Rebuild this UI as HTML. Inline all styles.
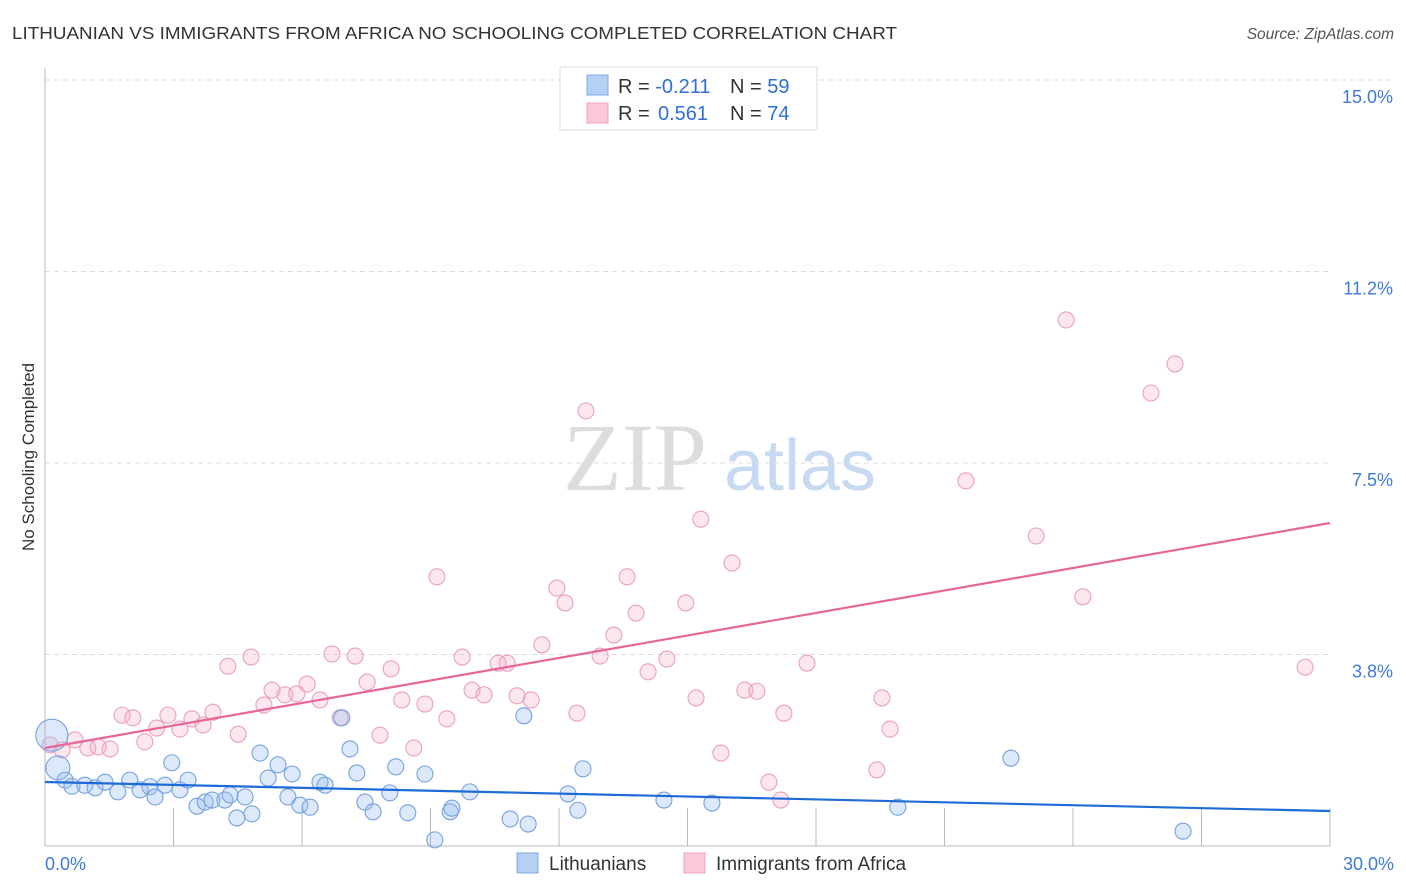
<!DOCTYPE html>
<html><head><meta charset="utf-8"><style>
body{margin:0;background:#fff;font-family:"Liberation Sans",sans-serif;}
svg{display:block}
</style></head><body>
<svg id="chart" width="1406" height="892">
<text x="12" y="39" font-size="17.5" fill="#333" textLength="885" lengthAdjust="spacingAndGlyphs">LITHUANIAN VS IMMIGRANTS FROM AFRICA NO SCHOOLING COMPLETED CORRELATION CHART</text>
<text x="1394" y="39" font-size="15.5" fill="#555" font-style="italic" text-anchor="end">Source: ZipAtlas.com</text>
<text x="34" y="457" font-size="17" fill="#333" text-anchor="middle" transform="rotate(-90 34 457)">No Schooling Completed</text>
<g><text x="635" y="490" font-size="96" fill="#ddd" font-family="Liberation Serif,serif" text-anchor="middle">ZIP</text><text x="800" y="490" font-size="72" fill="#c8daf2" text-anchor="middle">atlas</text></g>
<g id="grid"></g><g id="pts"></g><g id="lines"></g>
<g>
<rect x="560" y="67" width="257" height="63" fill="#fff" stroke="#ddd"/>
<rect x="587" y="75" width="21" height="20" fill="#b5d0f3" stroke="#7fa9e0"/>
<rect x="587" y="103" width="21" height="20" fill="#f9c9d7" stroke="#eea2bb"/>
<text x="618" y="93" font-size="20" fill="#333">R = <tspan fill="#2f6fd4">-0.211</tspan></text>
<text x="730" y="93" font-size="20" fill="#333">N = <tspan fill="#2f6fd4">59</tspan></text>
<text x="618" y="120" font-size="20" fill="#333">R = <tspan fill="#2f6fd4" x="658">0.561</tspan></text>
<text x="730" y="120" font-size="20" fill="#333">N = <tspan fill="#2f6fd4">74</tspan></text>
</g>
<g>
<rect x="517" y="853" width="21" height="20" fill="#b5d0f3" stroke="#7fa9e0"/>
<text x="549" y="870" font-size="19" fill="#333">Lithuanians</text>
<rect x="684" y="853" width="21" height="20" fill="#f9c9d7" stroke="#eea2bb"/>
<text x="716" y="870" font-size="19" fill="#333">Immigrants from Africa</text>
</g>
</svg>
<script>
const yTicks=[3.75,7.5,11.25,15];
const yTickLabels=["3.8%","7.5%","11.2%","15.0%"];
const xTickVals=[0,3,6,9,12,15,18,21,24,27,30];
const xLabels=["0.0%","30.0%"];
const blueX=[0.16,0.30,0.47,0.63,0.93,1.17,1.40,1.70,1.98,2.22,2.45,2.57,2.80,2.96,3.15,3.34,3.55,3.74,3.90,4.20,4.32,4.48,4.67,4.83,5.02,5.21,5.44,5.67,5.77,5.95,6.19,6.42,6.54,6.93,7.12,7.28,7.47,7.66,8.05,8.19,8.47,8.87,9.10,9.46,9.50,9.92,10.86,11.18,11.28,12.21,12.44,12.56,14.45,15.57,19.91,22.55,26.57];
const blueY=[2.17,1.53,1.29,1.17,1.19,1.14,1.25,1.06,1.29,1.10,1.16,0.96,1.19,1.63,1.10,1.29,0.78,0.86,0.90,0.90,1.00,0.55,0.96,0.63,1.82,1.33,1.59,0.96,1.41,0.80,0.76,1.25,1.19,2.51,1.90,1.43,0.86,0.67,1.04,1.55,0.65,1.41,0.12,0.67,0.74,1.06,0.53,2.55,0.43,1.02,0.70,1.51,0.90,0.84,0.76,1.72,0.29];
const blueR=[16,12];
const pinkX=[0.12,0.40,0.70,1.00,1.24,1.52,1.80,2.05,2.33,2.61,2.87,3.15,3.43,3.69,3.92,4.51,4.27,4.81,5.11,5.30,5.60,5.88,6.12,6.42,6.70,6.89,7.24,7.52,7.82,8.08,8.33,8.61,8.87,9.15,9.38,9.74,9.97,10.25,10.58,10.79,11.02,11.35,11.60,11.95,12.14,12.42,12.63,12.96,13.28,13.59,13.80,14.08,14.52,14.96,15.20,15.31,15.78,16.04,16.34,16.62,16.90,17.18,17.25,17.79,19.42,19.54,19.73,21.50,23.14,23.84,24.23,25.82,26.38,29.42];
const pinkY=[1.98,1.88,2.08,1.92,1.94,1.90,2.56,2.51,2.04,2.31,2.56,2.29,2.49,2.37,2.62,2.19,3.52,3.70,2.76,3.05,2.96,2.98,3.17,2.86,3.76,2.51,3.72,3.21,2.17,3.47,2.86,1.92,2.78,5.27,2.49,3.70,3.05,2.96,3.58,3.58,2.94,2.86,3.94,5.05,4.76,2.60,8.52,3.72,4.13,5.27,4.56,3.41,3.66,4.76,2.90,6.40,1.82,5.54,3.05,3.03,1.25,0.90,2.60,3.58,1.49,2.90,2.29,7.15,6.07,10.30,4.88,8.87,9.44,3.50];
const blueTrend=[1.253,0.685];
const pinkTrend=[1.919,6.325];
const NS="http://www.w3.org/2000/svg";
const X=v=>45+v/30*1285, Y=v=>846-v*51.07;
function mk(tag,at,parent){const e=document.createElementNS(NS,tag);for(const k in at)e.setAttribute(k,at[k]);parent.appendChild(e);return e;}
const g=document.getElementById('grid');
yTicks.forEach((t,i)=>{
 const l=mk('line',{x1:45,x2:t===15?1395:1330,y1:Y(t),y2:Y(t),stroke:'#ddd','stroke-dasharray':'5,4'},g);
 
 
 const tx=mk('text',{x:1393,y:Y(t)+23,'font-size':18,fill:'#3f7bd6','text-anchor':'end'},g);tx.textContent=yTickLabels[i];
 
 
});
const ax=mk('line',{x1:45,x2:45,y1:68,y2:846,stroke:'#bbb'},g);


const bx=mk('line',{x1:45,x2:1330,y1:846,y2:846,stroke:'#bbb'},g);


xTickVals.forEach(v=>{const t=mk('line',{x1:X(v),x2:X(v),y1:808,y2:846,stroke:'#bbb'},g);
 
 });
[[0,'start',45],[30,'end',1394]].forEach((a,i)=>{const t=mk('text',{x:a[2],y:870,'font-size':18,fill:'#3f7bd6','text-anchor':a[1]},g);t.textContent=xLabels[i];
 
 });
const p=document.getElementById('pts');
pinkX.forEach((x,i)=>{const c=mk('circle',{cx:X(x),cy:Y(pinkY[i]),r:8,fill:'rgba(244,170,195,0.28)',stroke:'#eaa0ba','stroke-width':1.1},p);
 
 });
blueX.forEach((x,i)=>{const c=mk('circle',{cx:X(x),cy:Y(blueY[i]),r:blueR[i]||8,fill:'rgba(150,188,238,0.32)',stroke:'#74a2e0','stroke-width':1.1},p);
 
 });
const L=document.getElementById('lines');
const bl=mk('line',{x1:X(0),y1:Y(blueTrend[0]),x2:X(30),y2:Y(blueTrend[1]),stroke:'#1e6ad6','stroke-width':2.2},L);


const pl=mk('line',{x1:X(0),y1:Y(pinkTrend[0]),x2:X(30),y2:Y(pinkTrend[1]),stroke:'#e8659a','stroke-width':2.2},L);


</script>
</body></html>
